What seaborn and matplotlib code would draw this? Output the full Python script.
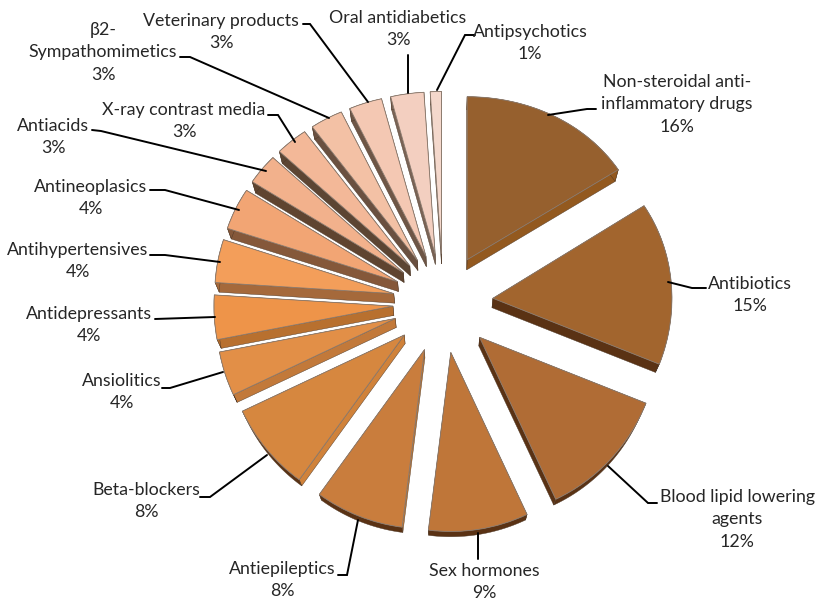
import numpy as np
import matplotlib
matplotlib.use("Agg")
import matplotlib.pyplot as plt
from matplotlib.patches import Polygon
from matplotlib.transforms import Transform
import seaborn as sns

# Share of each drug class, in percent
drug_classes = [["Non-steroidal anti-", "inflammatory drugs"], ["Antibiotics"],
                ["Blood lipid lowering", "agents"], ["Sex hormones"], ["Antiepileptics"],
                ["Beta-blockers"], ["Ansiolitics"], ["Antidepressants"],
                ["Antihypertensives"], ["Antineoplasics"], ["Antiacids"],
                ["X-ray contrast media"], ["β2-", "Sympathomimetics"],
                ["Veterinary products"], ["Oral antidiabetics"], ["Antipsychotics"]]
shares = [16, 15, 12, 9, 8, 8, 4, 4, 4, 4, 3, 3, 3, 3, 3, 1]

top_colors = ["#96602e", "#a2652e", "#b06c35", "#bf7639", "#c97d3d", "#d6873f",
              "#e28f47", "#ee9449", "#f39e5a", "#f2a574", "#f2b18c", "#f3b898",
              "#f3c1a5", "#f4c8b3", "#f3cfc0", "#f4d8cc"]
side_colors = ["#93591f", "#5a3214", "#5a3214", "#5a3214", "#c47a35", "#d0823a",
               "#c2793a", "#b8702f", "#a5693b", "#85583a", "#5f4430", "#5c4533",
               "#6a5040", "#6e5646", "#7a6355", "#8a7568"]
arc_colors = ["#93591f", "#5a3214", "#5a3214", "#5a3214", "#5a3214", "#5a3214",
              "#c2793a", "#b8702f", "#a5693b", "#85583a", "#5f4430", "#5c4533",
              "#6a5040", "#6e5646", "#7a6355", "#8a7568"]

# First-line centre of each label and leader polylines, in figure pixels (origin top-left)
label_xy = [(677, 82), (750, 284), (737, 497), (484, 571), (282, 569), (146, 490),
            (122, 381), (89, 314), (78, 250), (91, 187), (53, 126), (184, 110),
            (103, 30), (221, 21), (398, 18), (530, 32)]
leaders = [[(548, 115), (587, 109), (596, 109)],
           [(668, 282), (692, 288), (706, 288)],
           [(608, 466), (648, 503), (657, 503)],
           [(478, 533), (478, 559)],
           [(358, 520), (347, 575), (338, 575)],
           [(267, 455), (210, 497), (200, 497)],
           [(223, 372), (170, 388), (162, 388)],
           [(215, 317), (155, 319)],
           [(220, 262), (165, 255), (150, 255)],
           [(239, 210), (165, 190), (150, 190)],
           [(266, 171), (101, 131), (92, 130)],
           [(295, 142), (278, 115), (268, 115)],
           [(329, 118), (190, 57), (180, 57)],
           [(368, 102), (310, 24), (303, 24)],
           [(408, 93), (408, 55)],
           [(437, 90), (465, 35), (475, 35)]]

W, H = 815, 598
CX, CY, R = 443, 303, 179
EXPLODE = 0.28
SQUASH = 0.06             # foreshortening of the far half of the pie
VANISH = np.array([0.0, -2.9])   # point the extrusion converges to
DEPTH = 0.018
LINE_STEP = 22.3


def warp(xy):
    xy = np.array(xy, dtype=float)
    y = xy[:, 1]
    xy[:, 1] = y - SQUASH * np.where(y > 0, y, 0) ** 2
    return xy


class TiltTransform(Transform):
    input_dims = output_dims = 2
    is_affine = False
    has_inverse = False

    def transform_non_affine(self, values):
        return warp(values)


def base(points):
    return points + DEPTH * (VANISH - points)


def to_data(p):
    return ((p[0] - CX) / R, (CY - p[1]) / R)


sns.set_style("white")
plt.rcParams["font.family"] = ["Lato", "DejaVu Sans"]

fig = plt.figure(figsize=(W / 100, H / 100), dpi=100)
ax = fig.add_axes([0, 0, 1, 1])

palette = sns.color_palette(top_colors)
wedges, _ = ax.pie(shares, colors=palette, startangle=90, counterclock=False,
                   explode=[EXPLODE] * len(shares), radius=1.0,
                   wedgeprops=dict(edgecolor="#8a7a6e", linewidth=0.6))
ax.set_xlim(-CX / R, (W - CX) / R)
ax.set_ylim((CY - H) / R, CY / R)
ax.set_aspect("equal")
ax.axis("off")

tilt = TiltTransform()
for i, w in enumerate(wedges):
    t1, t2 = np.deg2rad([w.theta1, w.theta2])
    cx, cy = w.center
    th = np.linspace(t1, t2, 40)
    arc = warp(np.c_[cx + w.r * np.cos(th), cy + w.r * np.sin(th)])
    apex = warp([[cx, cy]])
    mid_y = np.mean(arc[:, 1])
    z = 5 - mid_y               # far slices are painted first
    wall = dict(edgecolor="#4a3524", linewidth=0.3, zorder=z)
    for end in (arc[:1], arc[-1:]):
        quad = np.vstack([apex, end, base(end), base(apex)])
        ax.add_patch(Polygon(quad, facecolor=side_colors[i], **wall))
    strip = np.vstack([arc, base(arc)[::-1]])
    ax.add_patch(Polygon(strip, facecolor=arc_colors[i], **wall))
    w.set_transform(tilt + ax.transData)
    w.set_zorder(z + 0.01)

for path in leaders:
    pts = np.array([to_data(p) for p in path])
    ax.plot(pts[:, 0], pts[:, 1], color="black", lw=1.4, zorder=20,
            solid_joinstyle="miter")

for name_lines, share, (lx, ly) in zip(drug_classes, shares, label_xy):
    for n, line in enumerate(name_lines + [f"{share}%"]):
        x, y = to_data((lx, ly + n * LINE_STEP))
        ax.text(x, y, line, ha="center", va="center", fontsize=12.8,
                color="#262626", zorder=21)

fig.savefig("out.png", dpi=100, facecolor="white")
